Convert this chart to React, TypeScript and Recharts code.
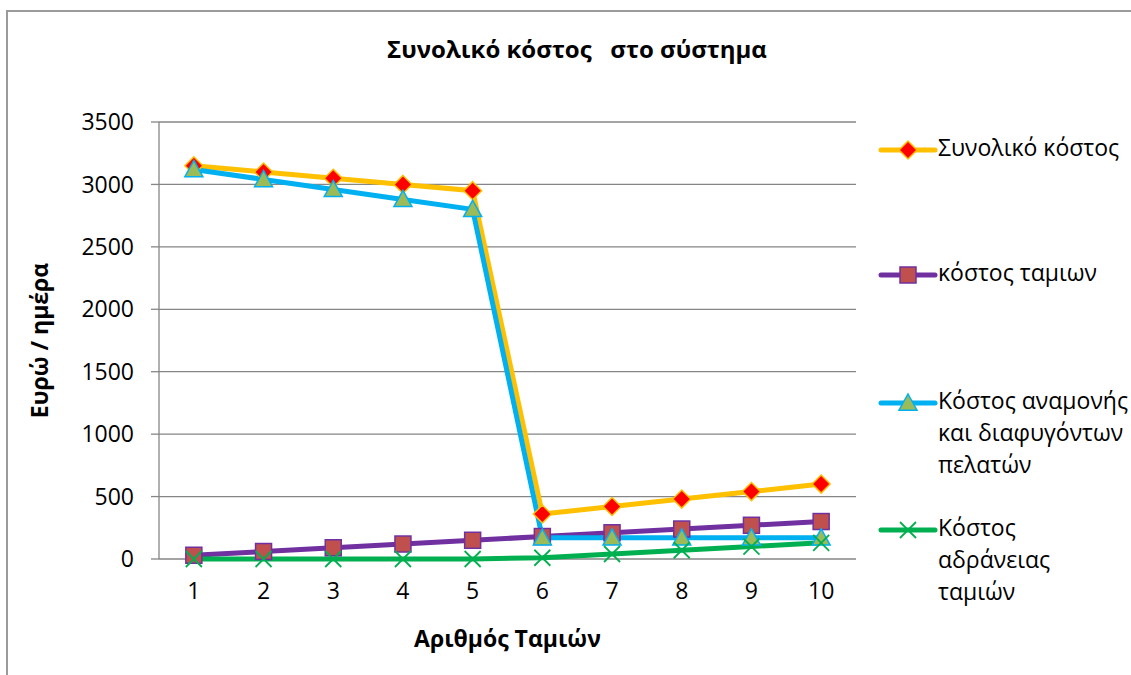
import React from "react";
import { LineChart, Line, XAxis, YAxis, CartesianGrid, Legend, Label } from "recharts";

// Αριθμός ταμείων
const tameia = [1, 2, 3, 4, 5, 6, 7, 8, 9, 10];
// Ευρώ / ημέρα
const synolikoKostos = [3150, 3100, 3050, 3000, 2950, 360, 420, 480, 540, 600];
const kostosTamion = [30, 60, 90, 120, 150, 180, 210, 240, 270, 300];
const kostosAnamonis = [3120, 3040, 2960, 2880, 2800, 170, 170, 170, 170, 170];
const kostosAdraneias = [0, 0, 0, 0, 0, 10, 40, 70, 100, 130];

const yTicks = [0, 500, 1000, 1500, 2000, 2500, 3000, 3500];
const xBoundaries = [0.5, 1.5, 2.5, 3.5, 4.5, 5.5, 6.5, 7.5, 8.5, 9.5, 10.5];

const data = tameia.map((n, i) => ({
  n,
  total: synolikoKostos[i],
  tamia: kostosTamion[i],
  anamoni: kostosAnamonis[i],
  adraneia: kostosAdraneias[i],
}));

const FONT = "'Open Sans', sans-serif";
const GRID = "#868686";

type Marker = "diamond" | "square" | "triangle" | "cross";

const series: { key: string; name: string[]; color: string; marker: Marker }[] = [
  { key: "total", name: ["Συνολικό κόστος"], color: "#FFC000", marker: "diamond" },
  { key: "tamia", name: ["κόστος ταμιων"], color: "#7030A0", marker: "square" },
  { key: "anamoni", name: ["Κόστος αναμονής", "και διαφυγόντων", "πελατών"], color: "#00B0F0", marker: "triangle" },
  { key: "adraneia", name: ["Κόστος", "αδράνειας", "ταμιών"], color: "#00B050", marker: "cross" },
];

function markerShape(marker: Marker, cx: number, cy: number, key?: string | number) {
  if (marker === "diamond") {
    const r = 9;
    return (
      <path key={key} d={`M${cx},${cy - r}L${cx + r},${cy}L${cx},${cy + r}L${cx - r},${cy}Z`}
        fill="#FF0000" stroke="#FFC000" strokeWidth={1.5} />
    );
  }
  if (marker === "square") {
    const r = 8;
    return <rect key={key} x={cx - r} y={cy - r} width={2 * r} height={2 * r} fill="#C0504D" stroke="#7030A0" strokeWidth={1.5} />;
  }
  if (marker === "triangle") {
    const r = 9;
    return (
      <path key={key} d={`M${cx},${cy - r}L${cx + r},${cy + r * 0.8}L${cx - r},${cy + r * 0.8}Z`}
        fill="#9BBB59" stroke="#00B0F0" strokeWidth={1.5} />
    );
  }
  const r = 8;
  return (
    <path key={key} d={`M${cx - r},${cy - r}L${cx + r},${cy + r}M${cx - r},${cy + r}L${cx + r},${cy - r}`}
      stroke="#00B050" strokeWidth={1.8} fill="none" />
  );
}

function makeDot(marker: Marker) {
  return (props: any) => {
    const { cx, cy, index } = props;
    if (cx == null || cy == null) return <g key={index} />;
    return markerShape(marker, cx, cy, index);
  };
}

const legendTops = [132, 257, 385, 512];

function LegendBox() {
  return (
    <div style={{ position: "relative", width: 260, height: 500, fontFamily: FONT, fontSize: 23, color: "#000" }}>
      {series.map((s, i) => (
        <div key={s.key} style={{ position: "absolute", left: 0, top: legendTops[i] - 132 }}>
          <svg width={60} height={36} style={{ position: "absolute", left: 0, top: 0 }}>
            <line x1={3} y1={18} x2={57} y2={18} stroke={s.color} strokeWidth={5} strokeLinecap="round" />
            {markerShape(s.marker, 30, 18)}
          </svg>
          <div style={{ position: "absolute", left: 60, top: -1, lineHeight: "32px", whiteSpace: "nowrap" }}>
            {s.name.map((l) => (
              <div key={l}>{l}</div>
            ))}
          </div>
        </div>
      ))}
    </div>
  );
}

export default function App() {
  return (
    <div
      style={{
        position: "absolute",
        left: 6,
        top: 10,
        width: 1125,
        height: 665,
        borderTop: "2px solid #9a9a9a",
        borderLeft: "2px solid #9a9a9a",
        boxSizing: "border-box",
        background: "#fff",
        fontFamily: FONT,
        overflow: "hidden",
      }}
    >
      <div
        style={{
          position: "absolute",
          left: 0,
          width: 1138,
          top: 20,
          textAlign: "center",
          fontWeight: 700,
          fontSize: 24,
          whiteSpace: "pre",
        }}
      >
        {"Συνολικό κόστος   στο σύστημα"}
      </div>
      <LineChart
        width={1120}
        height={650}
        data={data}
        margin={{ top: 110, right: 272, bottom: 43, left: 81 }}
        style={{ position: "absolute", left: 0, top: 0 }}
      >
        <CartesianGrid stroke={GRID} strokeWidth={1.3} vertical={false} />
        <XAxis
          xAxisId="b"
          type="number"
          dataKey="n"
          domain={[0.5, 10.5]}
          ticks={xBoundaries}
          tickFormatter={() => ""}
          height={0}
          tickSize={8}
          tickLine={{ stroke: GRID, strokeWidth: 1.3 }}
          axisLine={{ stroke: GRID, strokeWidth: 1.3 }}
          allowDataOverflow
        />
        <XAxis
          xAxisId="a"
          type="number"
          dataKey="n"
          domain={[0.5, 10.5]}
          ticks={tameia}
          height={60}
          tickLine={false}
          axisLine={false}
          tickMargin={18}
          tick={{ fill: "#000", fontSize: 23, fontFamily: FONT }}
        >
          <Label
            value="Αριθμός Ταμιών"
            position="insideBottom"
            offset={-28}
            style={{ fontWeight: 700, fontSize: 23, fill: "#000", fontFamily: FONT }}
          />
        </XAxis>
        <YAxis
          domain={[0, 3500]}
          ticks={yTicks}
          width={70}
          tickSize={8}
          tickMargin={17}
          tickLine={{ stroke: GRID, strokeWidth: 1.3 }}
          axisLine={{ stroke: GRID, strokeWidth: 1.3 }}
          tick={{ fill: "#000", fontSize: 23, fontFamily: FONT }}
        >
          <Label
            content={({ viewBox }: any) => {
              const cx = viewBox.x - 50;
              const cy = viewBox.y + viewBox.height / 2;
              return (
                <text
                  x={cx}
                  y={cy}
                  transform={`rotate(-90 ${cx} ${cy})`}
                  textAnchor="middle"
                  dominantBaseline="central"
                  style={{ fontWeight: 700, fontSize: 23, fill: "#000", fontFamily: FONT }}
                >
                  Ευρώ / ημέρα
                </text>
              );
            }}
          />
        </YAxis>
        <Legend
          layout="horizontal"
          verticalAlign="middle"
          align="center"
          wrapperStyle={{ left: 870, top: 120, width: 260 }}
          content={() => <LegendBox />}
        />
        {series.map((s) => (
          <Line
            key={s.key}
            xAxisId="a"
            dataKey={s.key}
            name={s.name.join(" ")}
            stroke={s.color}
            strokeWidth={5}
            dot={makeDot(s.marker)}
            activeDot={false}
            isAnimationActive={false}
          />
        ))}
      </LineChart>
    </div>
  );
}
